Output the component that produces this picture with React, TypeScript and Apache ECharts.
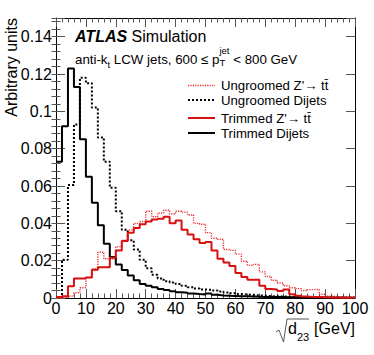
import React, { useEffect, useRef } from "react";
import * as echarts from "echarts";

// Histogram bins: 50 bins of 2 GeV from 0 to 100
const binWidth = 2;
const nBins = 50;
const binEdges: number[] = Array.from({ length: nBins + 1 }, (_, i) => i * binWidth);

const ungroomedZprime = [
  0, 0.0003, 0.001, 0.0028, 0.0055, 0.011, 0.0155, 0.0245, 0.021, 0.021,
  0.0275, 0.031, 0.0365, 0.04, 0.041, 0.0465, 0.0435, 0.0455, 0.047, 0.045,
  0.0465, 0.046, 0.0445, 0.04, 0.0395, 0.035, 0.032, 0.0315, 0.026, 0.0255,
  0.0235, 0.0197, 0.0175, 0.018, 0.014, 0.0115, 0.0095, 0.008, 0.0066, 0.0055,
  0.005, 0.004, 0.0045, 0.0046, 0.002, 0.001, 0.0008, 0.0006, 0.0005, 0.0004,
];
const ungroomedDijets = [
  0.0005, 0.0205, 0.0605, 0.093, 0.118, 0.115, 0.102, 0.086, 0.073, 0.059,
  0.0465, 0.0365, 0.031, 0.026, 0.0205, 0.016, 0.0125, 0.0105, 0.009, 0.0083,
  0.0075, 0.0066, 0.0058, 0.0051, 0.0046, 0.0044, 0.004, 0.0035, 0.003, 0.0026,
  0.0022, 0.0019, 0.0016, 0.0014, 0.0012, 0.001, 0.0009, 0.0008, 0.0007, 0.0006,
  0.0005, 0.0005, 0.0004, 0.0004, 0.0003, 0.0003, 0.0003, 0.0002, 0.0002, 0.0002,
];
const trimmedZprime = [
  0.0005, 0.001, 0.0063, 0.0105, 0.0105, 0.011, 0.0152, 0.0165, 0.0165, 0.0215,
  0.0255, 0.0305, 0.035, 0.0375, 0.0395, 0.041, 0.042, 0.0425, 0.0435, 0.04,
  0.0415, 0.0365, 0.034, 0.0315, 0.0295, 0.03, 0.0255, 0.021, 0.019, 0.0172,
  0.0134, 0.0113, 0.0098, 0.0098, 0.0065, 0.0048, 0.0045, 0.0038, 0.0045, 0.002,
  0.0012, 0.0008, 0.0006, 0.0005, 0.0004, 0.0003, 0.0003, 0.0002, 0.0002, 0.0001,
];
const trimmedDijets = [
  0.073, 0.092, 0.123, 0.113, 0.085, 0.065, 0.051, 0.039, 0.029, 0.022,
  0.018, 0.015, 0.012, 0.0095, 0.0075, 0.0066, 0.0058, 0.0048, 0.0043, 0.0036,
  0.0031, 0.0028, 0.0024, 0.0021, 0.0019, 0.0024, 0.0017, 0.0014, 0.0012, 0.0011,
  0.001, 0.0009, 0.0008, 0.0007, 0.0006, 0.0006, 0.0005, 0.0005, 0.0004, 0.0004,
  0.0003, 0.0003, 0.0003, 0.0002, 0.0002, 0.0002, 0.0002, 0.0001, 0.0001, 0.0001,
];

const legendLabels = [
  "Ungroomed Z'\u2192 tt\u0304",
  "Ungroomed Dijets",
  "Trimmed Z'\u2192 tt\u0304",
  "Trimmed Dijets",
];

const FONT = '"Liberation Sans", Arial, Helvetica, sans-serif';
const RED = "#d81010";
const RED_DOT = "#e83030";

function toSteps(values: number[]): number[][] {
  const pts = values.map((v, i) => [binEdges[i], v]);
  pts.push([binEdges[nBins], values[nBins - 1]]);
  return pts;
}

export default function App() {
  const ref = useRef<HTMLDivElement>(null);
  useEffect(() => {
    if (!ref.current) return;
    const chart = echarts.init(ref.current, null, { renderer: "svg" });
    const ctx = document.createElement("canvas").getContext("2d")!;
    const measure = (t: string, size: number, weight = "normal", style = "normal") => {
      ctx.font = `${style} ${weight} ${size}px ${FONT}`;
      return ctx.measureText(t).width;
    };

    const tickColor = "#555";
    const axisLine = { show: true, onZero: false, lineStyle: { color: "#000", width: 1 } };
    const majorTick = { show: true, inside: true, length: 9, lineStyle: { color: tickColor, width: 1 } };
    const minorTickAxis = { show: true, inside: true, length: 4.5, lineStyle: { color: tickColor, width: 1 } };

    // header text pieces
    const hs = 13.3;
    const ss = 9.5;
    const hx = 75;
    const hy = 59;
    const w1 = measure("anti-k", hs);
    const wsub = measure("t", ss);
    const t3 = " LCW jets, 600 \u2264 p";
    const w3 = measure(t3, hs);
    const wjet = measure("jet", ss);
    const x3 = hx + w1 + wsub;
    const x4 = x3 + w3;
    const x5 = x4 + wjet;

    const atlasW = measure("ATLAS ", 16, "bold", "italic");

    const legendX = 221;
    const legendYs = [85.5, 100, 118, 133];
    const legendStyles = [
      { stroke: RED_DOT, lineWidth: 1.4, lineDash: [1.2, 1.2] },
      { stroke: "#000", lineWidth: 2, lineDash: [2, 2] },
      { stroke: RED, lineWidth: 2, lineDash: null },
      { stroke: "#000", lineWidth: 2, lineDash: null },
    ];

    const small = (text: string, x: number, y: number, size: number) => ({
      type: "text", x, y,
      style: { text, font: `${size}px ${FONT}`, fill: "#000", verticalAlign: "middle", lineHeight: size },
    });

    const graphic: any[] = [
      {
        type: "text", x: 11, y: 18, rotation: Math.PI / 2,
        style: { text: "Arbitrary units", font: `16px ${FONT}`, fill: "#000", align: "right", verticalAlign: "middle" },
      },
      {
        type: "text", x: 75, y: 36,
        style: { text: "ATLAS", font: `italic bold 16px ${FONT}`, fill: "#000", align: "left", verticalAlign: "middle" },
      },
      {
        type: "text", x: 75 + atlasW, y: 36,
        style: { text: "Simulation", font: `16px ${FONT}`, fill: "#000", align: "left", verticalAlign: "middle" },
      },
      small("anti-k", hx, hy, hs),
      small("t", hx + w1, hy + 5, ss),
      small(t3, x3, hy, hs),
      small("jet", x4, hy - 9, ss),
      small("T", x4, hy + 3.5, ss),
      small(" < 800 GeV", x5, hy, hs),
      // x axis title: sqrt(d23) [GeV]
      {
        type: "polyline",
        shape: { points: [[276, 332], [279, 330], [283.5, 342], [287, 319], [309, 319]] },
        style: { stroke: "#444", lineWidth: 0.9, fill: null },
      },
      { type: "text", x: 288, y: 328, style: { text: "d", font: `16px ${FONT}`, fill: "#000", verticalAlign: "middle" } },
      { type: "text", x: 288 + measure("d", 16), y: 336.5, style: { text: "23", font: `11px ${FONT}`, fill: "#000", verticalAlign: "middle" } },
      { type: "text", x: 355, y: 328, style: { text: "[GeV]", font: `16px ${FONT}`, fill: "#000", align: "right", verticalAlign: "middle" } },
    ];
    legendLabels.forEach((lab, i) => {
      graphic.push({
        type: "line",
        shape: { x1: 188, y1: legendYs[i], x2: 215, y2: legendYs[i] },
        style: legendStyles[i],
      });
      graphic.push({
        type: "text", x: legendX, y: legendYs[i],
        style: { text: lab, font: `13.2px ${FONT}`, fill: "#000", verticalAlign: "middle", lineHeight: 12 },
      });
    });

    const yFmt = (v: number) => (v > 0.145 ? "" : String(parseFloat(v.toFixed(2))));

    chart.setOption({
      animation: false,
      grid: { left: 56, right: 19, top: 18, bottom: 57, containLabel: false },
      xAxis: [
        {
          type: "value", min: 0, max: 100, interval: 10, position: "bottom",
          axisLine, axisTick: majorTick,
          minorTick: { show: true, splitNumber: 5, length: 4.5, lineStyle: { color: tickColor } },
          axisLabel: { fontSize: 16, color: "#000", fontFamily: FONT, margin: 2 },
          splitLine: { show: false }, minorSplitLine: { show: false },
        },
        {
          type: "value", min: 0, max: 100, interval: 10, position: "top",
          axisLine, axisTick: majorTick,
          minorTick: { show: true, splitNumber: 5, length: 4.5, lineStyle: { color: tickColor } },
          axisLabel: { show: false }, splitLine: { show: false },
        },
      ],
      yAxis: [
        {
          type: "value", min: 0, max: 0.15, interval: 0.02, position: "left",
          axisLine, axisTick: majorTick,
          axisLabel: { fontSize: 16, color: "#000", fontFamily: FONT, margin: 4, formatter: yFmt },
          splitLine: { show: false },
        },
        {
          type: "value", min: 0, max: 0.15, interval: 0.004, position: "left",
          axisLine: { show: false }, axisTick: minorTickAxis,
          axisLabel: { show: false }, splitLine: { show: false },
        },
        {
          type: "value", min: 0, max: 0.15, interval: 0.02, position: "right",
          axisLine, axisTick: majorTick,
          axisLabel: { show: false }, splitLine: { show: false },
        },
        {
          type: "value", min: 0, max: 0.15, interval: 0.004, position: "right",
          axisLine: { show: false }, axisTick: minorTickAxis,
          axisLabel: { show: false }, splitLine: { show: false },
        },
      ],
      series: [
        {
          name: "Ungroomed Dijets", type: "line", step: "end", data: toSteps(ungroomedDijets),
          symbol: "none", silent: true, xAxisIndex: 0, yAxisIndex: 0,
          lineStyle: { color: "#000", width: 2, type: [2, 2] },
        },
        {
          name: "Ungroomed Z'", type: "line", step: "end", data: toSteps(ungroomedZprime),
          symbol: "none", silent: true, xAxisIndex: 0, yAxisIndex: 0,
          lineStyle: { color: RED_DOT, width: 1.4, type: [1.2, 1.2] },
        },
        {
          name: "Trimmed Dijets", type: "line", step: "end", data: toSteps(trimmedDijets),
          symbol: "none", silent: true, xAxisIndex: 0, yAxisIndex: 0,
          lineStyle: { color: "#000", width: 2 },
        },
        {
          name: "Trimmed Z'", type: "line", step: "end", data: toSteps(trimmedZprime),
          symbol: "none", silent: true, xAxisIndex: 0, yAxisIndex: 0,
          lineStyle: { color: RED, width: 2 },
        },
      ],
      graphic,
    });
    return () => chart.dispose();
  }, []);
  return (
    <div
      ref={ref}
      style={{ position: "absolute", left: 0, top: 0, width: 374, height: 355, background: "#fff" }}
    />
  );
}
